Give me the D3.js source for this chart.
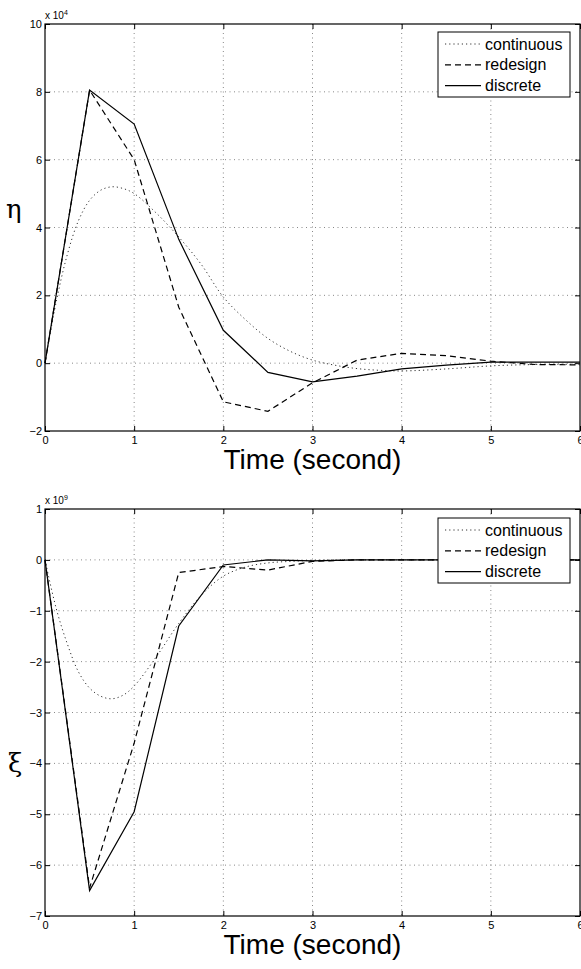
<!DOCTYPE html>
<html>
<head>
<meta charset="utf-8">
<script src="https://cdn.jsdelivr.net/npm/d3@7"></script>
<style>
  body { margin: 0; background: #fff; }
  text { font-family: "Liberation Sans", Arial, Helvetica, sans-serif; }
</style>
</head>
<body>
<script>
const W = 581, H = 969;

// sampled (discrete / redesign) time points and the denser continuous time grid
const tSample = [0, 0.5, 1, 1.5, 2, 2.5, 3, 3.5, 4, 4.5, 5, 5.5, 6];
const tCont = [0, 0.125, 0.25, 0.375, 0.5, 0.625, 0.75, 0.875, 1, 1.25, 1.5, 1.75, 2, 2.25, 2.5, 2.75, 3, 3.25, 3.5, 3.75, 4, 4.5, 5, 5.5, 6];
const xTicks = [0, 1, 2, 3, 4, 5, 6];

// eta, units of 1e4
const etaCont = [0, 1.8, 3.2, 4.2, 4.8, 5.1, 5.2, 5.15, 5.0, 4.42, 3.72, 2.92, 1.95, 1.28, 0.73, 0.35, 0.09, -0.06, -0.16, -0.21, -0.23, -0.17, -0.08, -0.04, -0.03];
const etaRedesign = [0, 8.05, 6.0, 1.65, -1.14, -1.42, -0.58, 0.09, 0.29, 0.22, 0.06, -0.04, -0.05];
const etaDiscrete = [0, 8.05, 7.05, 3.65, 0.97, -0.27, -0.55, -0.38, -0.17, -0.06, 0.03, 0.03, 0.03];
const etaTicks = [-2, 0, 2, 4, 6, 8, 10];

// xi, units of 1e9
const xiCont = [0, -0.95, -1.65, -2.2, -2.52, -2.68, -2.73, -2.66, -2.48, -1.9, -1.25, -0.7, -0.32, -0.14, -0.06, -0.03, -0.01, 0, 0, 0, 0, 0, 0, 0, 0];
const xiRedesign = [0, -6.45, -3.6, -0.25, -0.13, -0.2, -0.03, 0, 0, 0, 0, 0, 0];
const xiDiscrete = [0, -6.5, -4.95, -1.3, -0.1, 0, -0.02, 0, 0, 0, 0, 0, 0];
const xiTicks = [-7, -6, -5, -4, -3, -2, -1, 0, 1];

const legendNames = ["continuous", "redesign", "discrete"];

const svg = d3.select("body").append("svg").attr("width", W).attr("height", H);

const styles = {
  continuous: {dash: "1.2,3", width: 1, color: "#333"},
  redesign: {dash: "6,4", width: 1.2, color: "#000"},
  discrete: {dash: null, width: 1.2, color: "#000"}
};

function drawPanel(opt) {
  const x = d3.scaleLinear().domain([0, 6]).range([45, 580]);
  const y = d3.scaleLinear().domain(opt.yDomain).range([opt.bottom, opt.top]);
  const g = svg.append("g");

  // dotted grid
  g.selectAll("line.gx").data(xTicks.slice(1, -1)).enter().append("line")
    .attr("x1", d => x(d)).attr("x2", d => x(d))
    .attr("y1", opt.top).attr("y2", opt.bottom)
    .attr("stroke", "#888").attr("stroke-dasharray", "1,3.5");
  g.selectAll("line.gy").data(opt.yTicks.slice(1, -1)).enter().append("line")
    .attr("x1", x(0)).attr("x2", x(6))
    .attr("y1", d => y(d)).attr("y2", d => y(d))
    .attr("stroke", "#888").attr("stroke-dasharray", "1,3.5");

  // axes with inward ticks on all four sides
  const bottomAx = g.append("g").attr("transform", `translate(0,${opt.bottom})`)
    .call(d3.axisBottom(x).tickValues(xTicks).tickSizeInner(-5).tickSizeOuter(0).tickPadding(5).tickFormat(d3.format("d")));
  g.append("g").attr("transform", `translate(0,${opt.top})`)
    .call(d3.axisTop(x).tickValues(xTicks).tickSizeInner(-5).tickSizeOuter(0).tickFormat(""));
  const leftAx = g.append("g").attr("transform", `translate(${x(0)},0)`)
    .call(d3.axisLeft(y).tickValues(opt.yTicks).tickSizeInner(-5).tickSizeOuter(0).tickPadding(3).tickFormat(d3.format("d")));
  g.append("g").attr("transform", `translate(${x(6)},0)`)
    .call(d3.axisRight(y).tickValues(opt.yTicks).tickSizeInner(-5).tickSizeOuter(0).tickFormat(""));
  g.selectAll(".domain").remove();
  g.selectAll(".tick line").attr("stroke", "#000");
  [bottomAx, leftAx].forEach(a => a.selectAll("text")
    .attr("font-size", 11).attr("fill", "#000")
    .style("font-family", "Liberation Sans, Arial, sans-serif"));

  // box
  g.append("rect").attr("x", x(0)).attr("y", opt.top)
    .attr("width", x(6) - x(0)).attr("height", opt.bottom - opt.top)
    .attr("fill", "none").attr("stroke", "#000").attr("stroke-width", 1.2);

  // series
  const line = d3.line().x(d => x(d[0])).y(d => y(d[1]));
  const series = [
    {name: "continuous", pts: d3.zip(tCont, opt.cont), curve: d3.curveCatmullRom},
    {name: "redesign", pts: d3.zip(tSample, opt.redesign), curve: d3.curveLinear},
    {name: "discrete", pts: d3.zip(tSample, opt.discrete), curve: d3.curveLinear}
  ];
  g.selectAll("path.s").data(series).enter().append("path")
    .attr("d", d => line.curve(d.curve)(d.pts))
    .attr("fill", "none")
    .attr("stroke", d => styles[d.name].color)
    .attr("stroke-width", d => styles[d.name].width)
    .attr("stroke-dasharray", d => styles[d.name].dash);

  // exponent label
  const ex = g.append("text").attr("x", 45).attr("y", opt.top - 5).attr("font-size", 10);
  ex.append("tspan").text("x 10");
  ex.append("tspan").attr("dy", -4).attr("font-size", 7).text(opt.exp);

  // x label
  g.append("text").attr("x", (x(0) + x(6)) / 2).attr("y", opt.bottom + 38)
    .attr("text-anchor", "middle").attr("font-size", 28).text("Time (second)");

  // y label
  g.append("text").attr("x", opt.ylab[0]).attr("y", opt.ylab[1])
    .attr("font-size", 26).style("font-family", "DejaVu Serif, serif").text(opt.ylabel);

  // legend
  const lg = g.append("g").attr("transform", `translate(438,${opt.legendY})`);
  lg.append("rect").attr("width", 132).attr("height", 65)
    .attr("fill", "#fff").attr("stroke", "#000").attr("stroke-width", 1);
  const rows = lg.selectAll("g").data(legendNames).enter().append("g")
    .attr("transform", (d, i) => `translate(0,${12 + i * 20.8})`);
  rows.append("line").attr("x1", 7).attr("x2", 43)
    .attr("stroke", d => styles[d].color)
    .attr("stroke-width", d => styles[d].width)
    .attr("stroke-dasharray", d => styles[d].dash);
  rows.append("text").attr("x", 47).attr("dy", "0.35em").attr("font-size", 16).text(d => d);
}

drawPanel({top: 24, bottom: 431, yDomain: [-2, 10], yTicks: etaTicks,
  cont: etaCont, redesign: etaRedesign, discrete: etaDiscrete,
  exp: "4", ylabel: "η", ylab: [6, 218], legendY: 32});

drawPanel({top: 509, bottom: 916, yDomain: [-7, 1], yTicks: xiTicks,
  cont: xiCont, redesign: xiRedesign, discrete: xiDiscrete,
  exp: "9", ylabel: "ξ", ylab: [8, 772], legendY: 518});
</script>
</body>
</html>
